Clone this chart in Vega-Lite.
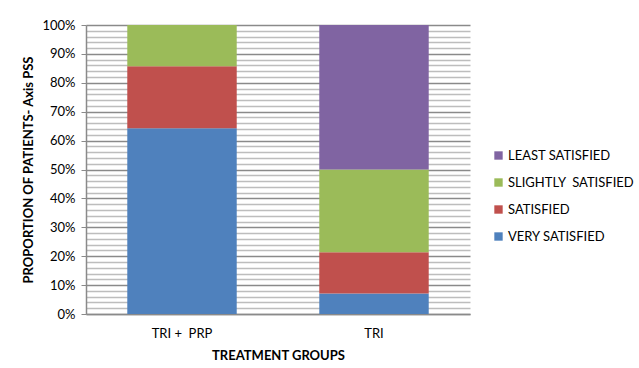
{
  "$schema": "https://vega.github.io/schema/vega-lite/v6.json",
  "autosize": {"type": "none"},
  "width": 384,
  "height": 289,
  "padding": {"left": 86, "top": 25, "right": 169, "bottom": 54},
  "background": "white",
  "data": {
    "values": [
      {"group": "TRI +\u00a0 PRP", "level": 1, "response": "VERY SATISFIED", "proportion": 0.643},
      {"group": "TRI +\u00a0 PRP", "level": 2, "response": "SATISFIED", "proportion": 0.214},
      {"group": "TRI +\u00a0 PRP", "level": 3, "response": "SLIGHTLY\u00a0 SATISFIED", "proportion": 0.143},
      {"group": "TRI +\u00a0 PRP", "level": 4, "response": "LEAST SATISFIED", "proportion": 0.0},
      {"group": "TRI", "level": 1, "response": "VERY SATISFIED", "proportion": 0.071},
      {"group": "TRI", "level": 2, "response": "SATISFIED", "proportion": 0.143},
      {"group": "TRI", "level": 3, "response": "SLIGHTLY\u00a0 SATISFIED", "proportion": 0.286},
      {"group": "TRI", "level": 4, "response": "LEAST SATISFIED", "proportion": 0.5}
    ]
  },
  "mark": {"type": "bar"},
  "encoding": {
    "x": {
      "field": "group",
      "type": "nominal",
      "sort": ["TRI +\u00a0 PRP", "TRI"],
      "scale": {"paddingInner": 0.43, "paddingOuter": 0.215},
      "axis": {
        "title": "TREATMENT GROUPS",
        "labelAngle": 0,
        "ticks": false,
        "labelPadding": 13,
        "titlePadding": 9,
        "domainColor": "#8a8a8a",
        "domainWidth": 1.5
      }
    },
    "y": {
      "field": "proportion",
      "type": "quantitative",
      "stack": "zero",
      "scale": {"domain": [0, 1], "nice": false},
      "axis": {
        "title": "PROPORTION OF PATIENTS- Axis PSS",
        "values": [0, 0.02, 0.04, 0.06, 0.08, 0.1, 0.12, 0.14, 0.16, 0.18, 0.2, 0.22, 0.24, 0.26, 0.28, 0.3, 0.32, 0.34, 0.36, 0.38, 0.4, 0.42, 0.44, 0.46, 0.48, 0.5, 0.52, 0.54, 0.56, 0.58, 0.6, 0.62, 0.64, 0.66, 0.68, 0.7, 0.72, 0.74, 0.76, 0.78, 0.8, 0.82, 0.84, 0.86, 0.88, 0.9, 0.92, 0.94, 0.96, 0.98, 1],
        "labelExpr": "round(datum.value*100) % 10 == 0 ? format(datum.value, '.0%') : ''",
        "grid": true,
        "gridColor": {"condition": {"test": "round(datum.value*100) % 10 == 0", "value": "#8a8a8a"}, "value": "#bdbdbd"},
        "gridWidth": 1.5,
        "tickOpacity": {"condition": {"test": "round(datum.value*100) % 10 == 0", "value": 1}, "value": 0},
        "tickColor": "#8a8a8a",
        "tickSize": 5,
        "labelPadding": 6,
        "titlePadding": 6,
        "domainColor": "#8a8a8a",
        "domainWidth": 1.5
      }
    },
    "color": {
      "field": "response",
      "type": "nominal",
      "scale": {
        "domain": ["LEAST SATISFIED", "SLIGHTLY\u00a0 SATISFIED", "SATISFIED", "VERY SATISFIED"],
        "range": ["#8064A2", "#9BBB59", "#C0504D", "#4F81BD"]
      },
      "legend": {
        "title": null,
        "orient": "none",
        "legendX": 406,
        "legendY": 124,
        "symbolType": "square",
        "symbolSize": 70,
        "symbolStrokeWidth": 0,
        "rowPadding": 13,
        "labelFontSize": 13,
        "labelOffset": 3
      }
    },
    "order": {"field": "level", "type": "quantitative", "sort": "ascending"}
  },
  "config": {
    "font": "Lato",
    "view": {"stroke": null},
    "axis": {
      "labelFont": "Lato",
      "titleFont": "Lato",
      "labelFontSize": 13,
      "labelColor": "#000000",
      "titleFontSize": 13,
      "titleFontWeight": "bold",
      "titleColor": "#000000"
    },
    "legend": {"labelFont": "Lato", "labelColor": "#000000"}
  }
}
